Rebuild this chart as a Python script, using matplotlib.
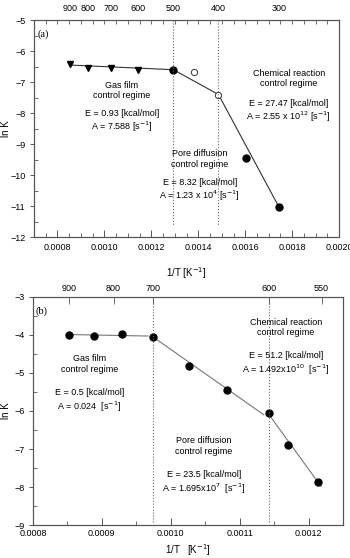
import numpy as np
import matplotlib.pyplot as plt
from matplotlib.ticker import MultipleLocator, FormatStrFormatter, FixedLocator

plt.rcParams['font.family'] = ['Liberation Sans', 'DejaVu Sans']
plt.rcParams['font.size'] = 6.5

# ---- panel (a) data ----
top_lab_a = ['900', '800', '700', '600', '500', '400', '300']  # deg C
top_pos_a = [1/(t + 273.) for t in [900, 800, 700, 600, 500, 400, 300]]
tri_x = [0.000853, 0.000932, 0.001028, 0.001145]
tri_y = [-6.43, -6.53, -6.56, -6.60]
dot_x_a = [0.001294, 0.001605, 0.001745]
dot_y_a = [-6.62, -9.46, -11.03]
open_x = [0.001383, 0.001486]
open_y = [-6.69, -7.42]
fit_x_a = [0.000853, 0.001294, 0.001486, 0.001745]
fit_y_a = [-6.45, -6.60, -7.40, -11.05]
bound_a = [0.001294, 0.001486]

# ---- panel (b) data ----
top_lab_b = ['900', '800', '700', '600', '550']
top_pos_b = [0.000852, 0.000917, 0.000974, 0.001142, 0.001219]
dot_x_b = [0.000852, 0.000889, 0.000930, 0.000974, 0.001026, 0.001082, 0.001142, 0.001170, 0.001214]
dot_y_b = [-3.99, -4.04, -3.97, -4.06, -4.83, -5.45, -6.06, -6.89, -7.86]
gas_x_b = [0.000852, 0.000967]
gas_y_b = [-3.99, -4.03]
pore_x_b = [0.000974, 0.001135]
pore_y_b = [-4.05, -6.10]
chem_x_b = [0.001142, 0.001218]
chem_y_b = [-6.08, -7.98]
bound_b = [0.000974, 0.001142]

fig = plt.figure(figsize=(3.5, 5.58), dpi=100)
spc = '#555555'

def style(ax, xmaj, xmin, ymin):
    for s in ax.spines.values():
        s.set_color(spc)
        s.set_linewidth(0.8)
    ax.xaxis.set_major_locator(MultipleLocator(xmaj))
    ax.xaxis.set_minor_locator(MultipleLocator(xmin))
    ax.xaxis.set_major_formatter(FormatStrFormatter('%.4f'))
    ax.yaxis.set_major_locator(MultipleLocator(1))
    ax.yaxis.set_minor_locator(MultipleLocator(ymin))
    ax.tick_params(axis='x', which='both', direction='in', color=spc, pad=4)
    ax.tick_params(axis='x', which='major', length=5, width=0.7)
    ax.tick_params(axis='x', which='minor', length=3, width=0.6)
    ax.tick_params(axis='y', which='major', direction='out', length=3, width=0.7, color=spc, pad=3)
    ax.tick_params(axis='y', which='minor', direction='in', length=3, width=0.6, color=spc)

# ================= panel (a) =================
ax1 = fig.add_axes([0.097, 0.575, 0.872, 0.389])
ax1.set_xlim(0.0007, 0.0020)
ax1.set_ylim(-12, -5)
style(ax1, 0.0002, 0.00005, 0.5)
ax1.plot(fit_x_a, fit_y_a, color='#333333', lw=0.8)
ax1.plot(tri_x, tri_y, 'v', color='black', ms=4.5)
ax1.plot(dot_x_a, dot_y_a, 'o', color='black', ms=5)
ax1.plot(open_x, open_y, 'o', mfc='white', mec='#333333', mew=0.7, ms=4.5)
for b in bound_a:
    ax1.plot([b, b], [-5, -11.6], ls=':', color='#666666', lw=0.8)

ax1.text(0.000713, -5.45, '(a)', family='Liberation Serif', fontsize=7.5, ha='left', va='center')
ax1.text(0.001074, -7.27, 'Gas film\ncontrol regime', ha='center', va='center')
ax1.text(0.001074, -8.27, 'E = 0.93 [kcal/mol]\nA = 7.588 [s$^{-1}$]', ha='center', va='center')
ax1.text(0.001785, -6.89, 'Chemical reaction\ncontrol regime', ha='center', va='center')
ax1.text(0.001785, -7.94, 'E = 27.47 [kcal/mol]\nA = 2.55 x 10$^{12}$ [s$^{-1}$]', ha='center', va='center')
ax1.text(0.001406, -9.48, 'Pore diffusion\ncontrol regime', ha='center', va='center')
ax1.text(0.001406, -10.5, 'E = 8.32 [kcal/mol]\nA = 1.23 x 10$^{4}$ [s$^{-1}$]', ha='center', va='center')

ax1.set_xlabel('1/T [K$^{-1}$]', fontsize=7, labelpad=10)
ax1.set_ylabel('ln K', fontsize=7)
ax1.yaxis.set_label_coords(-0.075, 0.5)

top1 = ax1.twiny()
top1.set_xlim(ax1.get_xlim())
top1.xaxis.set_major_locator(FixedLocator(top_pos_a))
top1.set_xticklabels(top_lab_a)
top1.xaxis.set_minor_locator(MultipleLocator(0.00005))
top1.tick_params(axis='x', which='major', length=0, pad=5)
top1.tick_params(axis='x', which='minor', direction='in', length=3, width=0.6, color=spc)
for s in top1.spines.values():
    s.set_color(spc)
    s.set_linewidth(0.8)

# ================= panel (b) =================
ax2 = fig.add_axes([0.094, 0.059, 0.886, 0.409])
ax2.set_xlim(0.0008, 0.00125)
ax2.set_ylim(-9, -3)
style(ax2, 0.0001, 0.00005, 0.5)
ax2.tick_params(axis='x', which='both', pad=3)
ax2.plot(gas_x_b, gas_y_b, color='#777777', lw=0.8)
ax2.plot(pore_x_b, pore_y_b, color='#777777', lw=0.8)
ax2.plot(chem_x_b, chem_y_b, color='#777777', lw=0.8)
ax2.plot(dot_x_b, dot_y_b, 'o', color='black', ms=5)
for b in bound_b:
    ax2.plot([b, b], [-3, -8.95], ls=':', color='#666666', lw=0.8)

ax2.text(0.000804, -3.37, '(b)', family='Liberation Serif', fontsize=7.5, ha='left', va='center')
ax2.text(0.000882, -4.76, 'Gas film\ncontrol regime', ha='center', va='center')
ax2.text(0.000882, -5.74, 'E = 0.5 [kcal/mol]\nA = 0.024  [s$^{-1}$]', ha='center', va='center')
ax2.text(0.001167, -3.80, 'Chemical reaction\ncontrol regime', ha='center', va='center')
ax2.text(0.001167, -4.76, 'E = 51.2 [kcal/mol]\nA = 1.492x10$^{10}$  [s$^{-1}$]', ha='center', va='center')
ax2.text(0.001048, -6.92, 'Pore diffusion\ncontrol regime', ha='center', va='center')
ax2.text(0.001048, -7.89, 'E = 23.5 [kcal/mol]\nA = 1.695x10$^{7}$  [s$^{-1}$]', ha='center', va='center')

ax2.set_xlabel('1/T   [K$^{-1}$]', fontsize=7, labelpad=3)
ax2.set_ylabel('ln K', fontsize=7)
ax2.yaxis.set_label_coords(-0.071, 0.5)

top2 = ax2.twiny()
top2.set_xlim(ax2.get_xlim())
top2.xaxis.set_major_locator(FixedLocator(top_pos_b))
top2.set_xticklabels(top_lab_b)
top2.xaxis.set_minor_locator(FixedLocator([]))
top2.tick_params(axis='x', which='major', direction='in', length=5, width=0.6, color=spc, pad=3)
for s in top2.spines.values():
    s.set_color(spc)
    s.set_linewidth(0.8)

fig.savefig('out.png', dpi=100)
